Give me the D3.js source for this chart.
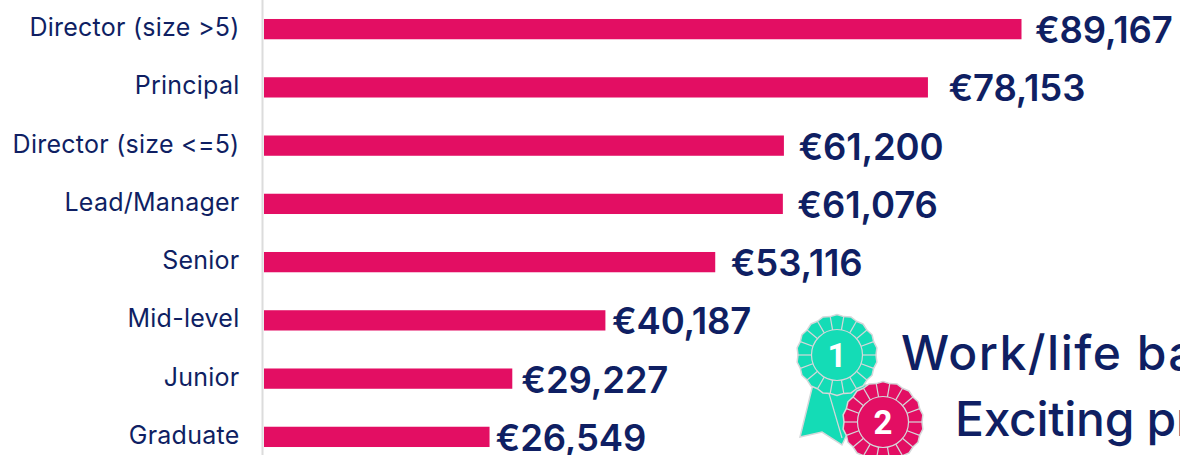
<!DOCTYPE html>
<html><head><meta charset="utf-8">
<script src="https://cdn.jsdelivr.net/npm/d3@7"></script>
<style>html,body{margin:0;padding:0;background:#fff;overflow:hidden}svg{display:block}</style>
</head><body><svg id="c" width="1180" height="455"></svg>
<script>
const categories = ["Director (size >5)","Principal","Director (size <=5)","Lead/Manager","Senior","Mid-level","Junior","Graduate"];
const salaries = [89167,78153,61200,61076,53116,40187,29227,26549];
const labelGaps = [13.5,20.5,14.5,14.5,15.5,6.5,9,6];
const reasons = ["Work/life balance","Exciting projects"];
const navy="#0f1f63", pink="#e30e63", teal="#14dcb6";
const svg=d3.select("#c");
const x=d3.scaleLinear().domain([0,89167]).range([264,1021.5]);
const y=d3.scaleBand().domain(categories).range([0,466]).paddingInner(0.652).paddingOuter(0.326).round(false);
svg.append("line").attr("x1",262.5).attr("x2",262.5).attr("y1",0).attr("y2",455).attr("stroke","#dcdcdc").attr("stroke-width",2);
svg.selectAll("rect.bar").data(salaries).join("rect").attr("class","bar")
 .attr("x",x(0)).attr("y",(d,i)=>y(categories[i])).attr("width",d=>x(d)-x(0)).attr("height",y.bandwidth()).attr("fill",pink);
svg.selectAll("text.cat").data(categories).join("text").attr("class","cat")
 .attr("x",239.5).attr("y",d=>y(d)+y.bandwidth()/2+7).attr("text-anchor","end")
 .attr("font-family","Inter").attr("font-weight",400).attr("font-size",25).attr("letter-spacing",0.25).attr("fill",navy).text(d=>d);
const fmt=d3.format(",");
svg.selectAll("text.val").data(salaries).join("text").attr("class","val")
 .attr("x",(d,i)=>x(d)+labelGaps[i]).attr("y",(d,i)=>y(categories[i])+y.bandwidth()/2+14)
 .attr("font-family","Inter").attr("font-weight",600).attr("font-size",36.5).attr("letter-spacing",-0.15).attr("fill",navy).text(d=>"€"+fmt(d));
function rosette(cx,cy,fill,num){
 const g=svg.append("g").attr("transform",`translate(${cx},${cy})`);
 const n=18;
 const pts=d3.range(n*2).map(i=>{const a=i/(n*2)*2*Math.PI,r=i%2?40.5:39;return [r*Math.cos(a),r*Math.sin(a)];});
 g.append("polygon").attr("points",pts.join(" ")).attr("fill",fill).attr("stroke","#d5d8da").attr("stroke-width",1.5).attr("stroke-linejoin","round");
 d3.range(n).forEach(i=>{const a=i/n*2*Math.PI;g.append("line").attr("x1",25*Math.cos(a)).attr("y1",25*Math.sin(a)).attr("x2",39*Math.cos(a)).attr("y2",39*Math.sin(a)).attr("stroke","#d5d8da").attr("stroke-width",1.2);});
 g.append("circle").attr("r",25.5).attr("fill",fill).attr("stroke","#d5d8da").attr("stroke-width",1.2);
 g.append("text").attr("text-anchor","middle").attr("y",12).attr("font-family","Roboto").attr("font-weight",700).attr("font-size",33).attr("fill","#fff").text(num);
}
svg.append("path").attr("d","M813,384 L800,437 L822,432 L842,445 L870,385 Z").attr("fill",teal).attr("stroke","#d5d8da").attr("stroke-width",1.5);
svg.append("line").attr("x1",828).attr("y1",390).attr("x2",842).attr("y2",438).attr("stroke","#d5d8da").attr("stroke-width",1.2);
rosette(837,355,teal,"1");
rosette(883,422,pink,"2");
svg.selectAll("text.reason").data(reasons).join("text").attr("class","reason")
 .attr("x",(d,i)=>i?955:901).attr("y",(d,i)=>i?436:370)
 .attr("font-family","Inter").attr("font-weight",500).attr("font-size",48).attr("letter-spacing",(d,i)=>i?-0.3:1.5).attr("fill",navy).text(d=>d);
</script></body></html>
